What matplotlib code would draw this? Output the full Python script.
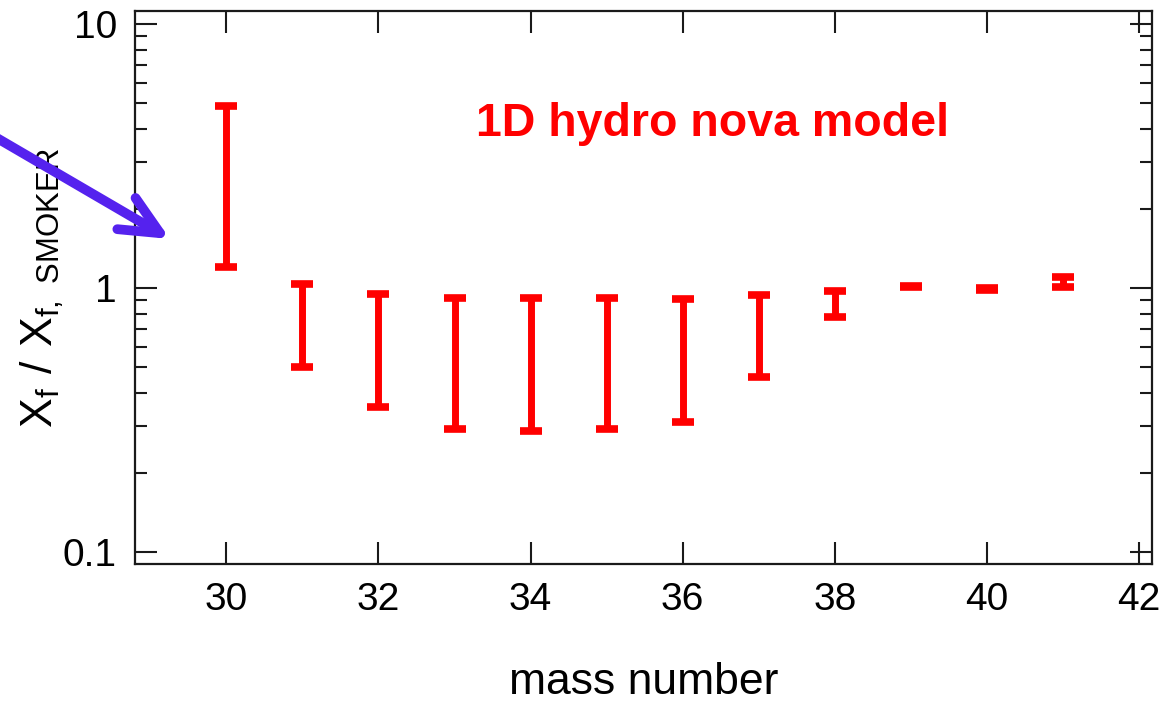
import matplotlib
matplotlib.use('Agg')
import matplotlib.pyplot as plt
import numpy as np
from matplotlib.patches import FancyArrowPatch
from matplotlib.ticker import FixedLocator, LogLocator, NullFormatter, FixedFormatter

plt.rcParams['font.family'] = ['Liberation Sans', 'DejaVu Sans']
plt.rcParams['mathtext.default'] = 'regular'

# Ratio ranges (final abundance / SMOKER) per mass number
mass = [30, 31, 32, 33, 34, 35, 36, 37, 38, 39, 40, 41]
ratio_low = [1.196, 0.502, 0.353, 0.292, 0.287, 0.292, 0.312, 0.462, 0.776, 1.008, 0.986, 1.01]
ratio_high = [4.89, 1.035, 0.953, 0.917, 0.917, 0.917, 0.912, 0.937, 0.974, 1.018, 0.996, 1.10]

x_ticks = [30, 32, 34, 36, 38, 40, 42]
y_ticks = [0.1, 1, 10]
y_tick_labels = ['0.1', '1', '10']

fig = plt.figure(figsize=(11.69, 7.04), dpi=100)
ax = fig.add_axes([0.1155, 0.1989, 0.87, 0.7855])

low = np.array(ratio_low)
high = np.array(ratio_high)
ax.errorbar(mass, low, yerr=[np.zeros_like(low), high - low], fmt='none',
            ecolor='#ff0000', elinewidth=5, capsize=8, capthick=5.5)

ax.set_yscale('log')
ax.set_xlim(28.8, 42.17)
ax.set_ylim(0.0901, 11.2)

ax.xaxis.set_major_locator(FixedLocator(x_ticks))
ax.yaxis.set_major_locator(FixedLocator(y_ticks))
ax.yaxis.set_major_formatter(FixedFormatter(y_tick_labels))
ax.yaxis.set_minor_locator(LogLocator(base=10, subs=np.arange(2, 10)))
ax.yaxis.set_minor_formatter(NullFormatter())

ax.tick_params(which='both', direction='in', top=True, right=True,
               width=1.5, colors='#1a1a1a', labelcolor='black')
ax.tick_params(which='major', length=16, labelsize=28, pad=13)
ax.tick_params(which='minor', length=8.5)
for sp in ax.spines.values():
    sp.set_linewidth(1.6)
    sp.set_color('#1a1a1a')

ax.set_xlabel('mass number', fontsize=32, labelpad=32)
ax.set_ylabel(r'$X_f\ /\ X_{f,\ SMOKER}$', fontsize=32)
ax.yaxis.set_label_coords(-0.068, 0.5)

ax.text(0.568, 0.774, '1D hydro nova model', transform=ax.transAxes,
        color='#ff0000', fontsize=33.5, fontweight='bold', ha='center', va='baseline')

# Pointer arrow coming in from the left edge
arrow = FancyArrowPatch((-0.01, 1 - 133 / 704), (170 / 1169, 1 - 239 / 704),
                        transform=fig.transFigure, color='#5522ee', linewidth=7,
                        arrowstyle='->,head_length=28,head_width=13',
                        mutation_scale=1, capstyle='round', joinstyle='round',
                        shrinkA=0, shrinkB=0)
fig.patches.append(arrow)

fig.savefig('out.png', dpi=100)
